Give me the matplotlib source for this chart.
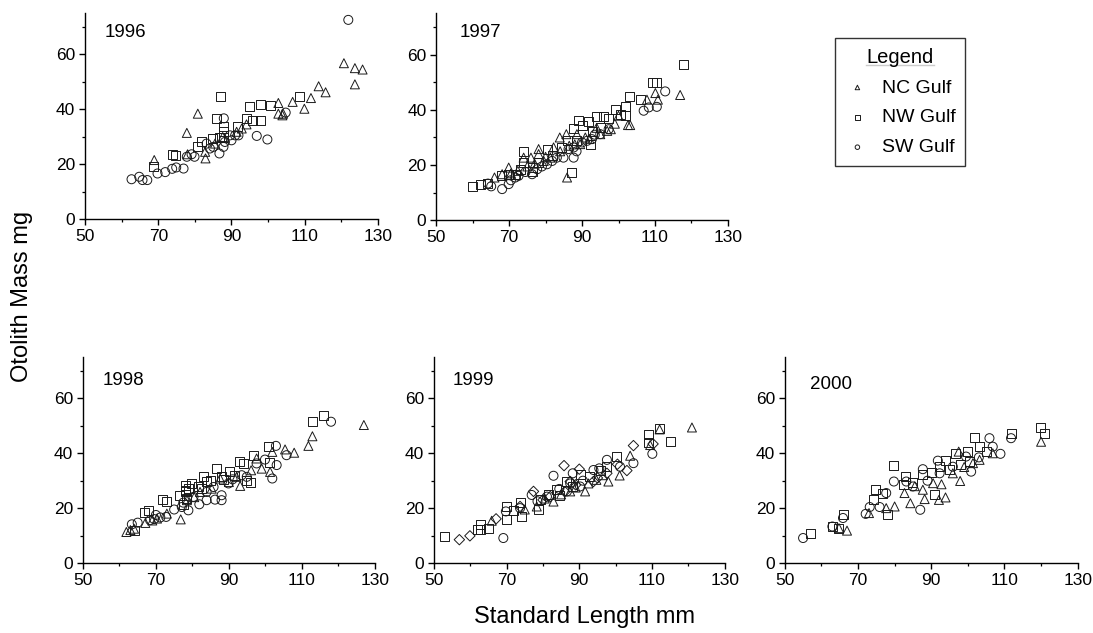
import matplotlib
matplotlib.use("Agg")
import matplotlib.pyplot as plt
from matplotlib.lines import Line2D

plt.rcParams["font.family"] = ["Liberation Sans", "DejaVu Sans"]

# ---- data: (standard length mm, otolith mass mg) ----
nc_1996_x = [68.9, 77.8, 80.8, 78.0, 82.9, 82.8, 85.5, 87.6, 92.8, 94.1, 102.8, 102.8,
             103.9, 106.7, 109.9, 111.7, 113.8, 115.7, 120.7, 123.7, 125.8, 123.7, 104.1, 91.4]
nc_1996_y = [21.5, 31.4, 38.4, 23.6, 22.1, 24.5, 27.5, 29.9, 33.0, 34.5, 42.3, 38.4,
             37.8, 42.7, 40.2, 44.1, 48.4, 46.2, 56.8, 55.0, 54.5, 49.1, 38.4, 31.8]
nw_1996_x = [68.8, 73.8, 74.8, 80.8, 81.9, 85.8, 86.9, 87.8, 87.8, 84.9, 86.7, 91.7,
             94.0, 94.9, 95.8, 97.8, 97.8, 100.7, 108.7, 87.8]
nw_1996_y = [19.0, 23.6, 23.0, 26.3, 28.1, 36.6, 44.8, 33.8, 31.8, 29.3, 29.9, 33.6,
             36.5, 41.1, 36.0, 41.8, 35.8, 41.3, 44.8, 29.9]
sw_1996_x = [62.7, 64.8, 65.7, 67.0, 69.8, 71.9, 73.8, 74.9, 76.9, 77.8, 79.1, 79.9,
             86.7, 87.8, 87.9, 88.2, 90.0, 91.0, 91.9, 96.9, 99.8, 104.8, 121.9, 85.0,
             83.2, 84.1, 89.6]
sw_1996_y = [14.5, 15.4, 14.2, 14.2, 16.6, 17.1, 18.3, 18.8, 18.4, 22.7, 23.6, 22.7,
             23.9, 26.3, 36.7, 28.1, 28.7, 30.5, 30.5, 30.3, 29.0, 38.8, 72.6, 26.3,
             27.5, 25.7, 30.5]

nc_1997_x = [66.0, 68.1, 69.9, 74.0, 76.0, 78.1, 78.1, 83.9, 85.7, 85.9, 88.6, 90.9,
             95.0, 97.9, 100.0, 102.6, 103.2, 107.8, 110.1, 110.8, 116.9, 81.3, 79.5,
             72.4, 89.5, 82.2, 96.9, 77.0, 80.0, 86.5, 92.0, 70.5, 75.0, 84.0, 88.0,
             94.0, 99.0]
nc_1997_y = [15.5, 16.7, 19.1, 22.7, 22.7, 25.8, 24.0, 30.0, 31.2, 15.5, 31.2, 30.0,
             31.2, 33.0, 37.9, 34.5, 34.5, 43.7, 46.1, 43.7, 45.4, 22.7, 21.5,
             17.9, 27.6, 26.4, 32.4, 20.5, 23.0, 27.0, 29.5, 17.0, 19.5, 25.0, 27.5,
             33.5, 35.0]
nw_1997_x = [60.1, 62.1, 64.0, 74.0, 87.2, 117.9, 110.5, 109.4, 102.9, 106.0, 102.0,
             102.0, 99.1, 96.0, 94.1, 91.8, 89.0, 87.7, 90.0, 84.5, 80.4, 76.3, 74.0,
             71.7, 69.9, 67.9, 95.0, 97.3, 92.3, 85.9, 78.0, 82.0, 88.5, 73.0, 76.5,
             93.0, 100.5]
nw_1997_y = [12.2, 12.9, 13.3, 25.0, 17.2, 56.3, 49.8, 49.8, 44.9, 43.7, 41.3,
             37.9, 40.0, 37.6, 37.6, 35.7, 36.0, 33.3, 34.2, 26.4, 25.8, 19.1, 20.8,
             16.5, 16.7, 16.2, 33.6, 36.7, 27.6, 28.8, 21.0, 23.5, 29.0, 18.5, 17.5,
             32.0, 38.5]
sw_1997_x = [64.2, 65.1, 68.1, 69.9, 71.7, 72.6, 76.3, 77.7, 80.4, 83.1, 84.9, 87.7,
             87.7, 90.0, 92.7, 95.0, 97.3, 106.9, 110.5, 112.8, 108.3, 81.8, 86.3, 91.4,
             74.5, 79.0, 93.5, 70.5, 88.5]
sw_1997_y = [13.3, 12.3, 11.3, 13.1, 15.5, 16.1, 16.7, 18.5, 20.3, 22.7, 22.7, 22.7,
             26.4, 28.2, 29.4, 31.2, 33.0, 39.7, 41.1, 46.7, 40.9, 21.5, 25.8, 28.8,
             17.5, 19.5, 31.0, 14.5, 25.0]

nc_1998_x = [61.9, 64.0, 67.1, 70.3, 76.8, 85.3, 93.1, 97.6, 99.0, 101.9, 105.4, 107.9,
             111.8, 112.9, 127.0, 96.1, 92.1, 87.6, 78.5, 73.0, 101.3, 82.1, 69.0, 80.5,
             63.0, 90.0]
nc_1998_y = [11.3, 12.5, 14.6, 16.2, 15.9, 27.1, 28.1, 38.1, 34.4, 40.5, 41.4, 40.2,
             42.7, 46.2, 50.3, 33.8, 31.4, 30.8, 22.9, 18.0, 33.2, 25.9, 15.5, 24.0,
             12.0, 29.5]
nw_1998_x = [64.0, 66.8, 68.0, 71.9, 73.0, 76.6, 78.0, 78.0, 79.8, 81.7, 83.0, 86.7,
             87.9, 90.3, 93.0, 93.9, 94.9, 95.8, 96.7, 100.8, 101.0, 112.9, 115.9, 83.9,
             78.5, 77.5, 79.0, 85.0, 88.5, 91.5, 78.2, 82.5]
nw_1998_y = [11.7, 18.4, 19.0, 23.2, 22.3, 24.7, 28.4, 25.9, 29.0, 28.0, 31.4, 34.4,
             31.4, 33.2, 36.9, 36.3, 30.2, 29.3, 39.3, 42.4, 36.6, 51.5, 53.9, 29.6,
             23.5, 21.5, 27.0, 30.0, 30.5, 32.0, 26.5, 27.0]
sw_1998_x = [63.4, 65.0, 68.4, 71.2, 72.8, 77.1, 78.9, 81.9, 83.9, 86.2, 88.0, 88.0,
             89.9, 93.5, 97.6, 99.9, 101.9, 103.1, 102.9, 105.8, 118.0, 80.3, 83.9, 94.9,
             85.8, 75.0, 69.5, 91.0, 70.0, 77.5]
sw_1998_y = [14.1, 14.7, 15.6, 16.6, 16.8, 20.4, 19.2, 21.4, 22.9, 23.1, 22.9, 24.7,
             29.0, 32.0, 36.3, 37.7, 30.8, 35.7, 42.7, 39.3, 51.5, 24.1, 25.9, 31.4,
             27.7, 19.5, 16.0, 30.5, 17.5, 22.0]

nc_1999_x = [65.9, 82.9, 87.5, 91.6, 98.0, 101.1, 104.0, 112.1, 121.0, 109.5, 78.3, 94.7,
             85.0, 89.0, 96.5, 75.0, 80.5, 92.5]
nc_1999_y = [15.4, 22.4, 26.1, 26.1, 29.7, 31.9, 39.1, 48.7, 49.4, 43.0, 20.6, 30.3,
             25.0, 27.5, 32.0, 19.5, 23.5, 29.0]
nw_1999_x = [52.9, 61.9, 62.9, 62.9, 65.0, 70.0, 70.0, 73.7, 74.0, 78.7, 83.8, 90.2,
             95.7, 100.3, 109.1, 112.1, 115.0, 109.1, 86.6, 79.4, 92.9, 72.0, 81.5, 88.0,
             97.5, 84.5]
nw_1999_y = [9.7, 12.1, 14.2, 12.1, 12.5, 20.6, 15.8, 22.2, 17.0, 19.4, 26.7, 32.1,
             33.9, 38.8, 46.9, 49.1, 44.2, 44.0, 29.7, 23.0, 31.5, 19.0, 25.0, 28.0,
             35.0, 24.5]
sw_1999_x = [69.1, 69.8, 73.7, 76.9, 82.9, 88.2, 93.9, 97.6, 104.9, 110.1, 86.6, 90.2,
             81.1, 101.2, 84.5, 78.5, 95.5, 91.0, 87.5]
sw_1999_y = [9.1, 18.8, 20.0, 24.8, 31.8, 32.7, 33.9, 37.6, 36.4, 39.8, 26.1, 27.9,
             24.2, 35.1, 27.0, 22.5, 34.5, 30.0, 29.0]
dm_1999_x = [57.0, 59.9, 67.1, 77.4, 85.8, 90.0, 103.1, 104.9, 110.3, 82.0, 87.5, 93.9,
             97.6, 73.7, 80.0, 89.0, 95.0, 100.5, 86.0]
dm_1999_y = [8.5, 9.9, 16.1, 26.1, 35.5, 34.2, 33.7, 42.8, 43.4, 24.2, 29.7, 29.7,
             32.7, 20.6, 23.0, 28.5, 31.0, 36.0, 26.0]

nc_2000_x = [67.0, 64.8, 73.0, 77.7, 80.0, 84.3, 88.2, 92.1, 93.9, 92.8, 97.9, 97.5,
             120.0, 106.8, 101.4, 82.7, 90.5, 95.9, 103.2, 87.7, 99.0, 85.5]
nc_2000_y = [11.8, 12.7, 18.2, 20.0, 20.6, 21.8, 23.3, 23.0, 23.9, 28.7, 29.9, 40.6,
             44.2, 40.0, 36.4, 25.5, 29.1, 32.7, 37.6, 26.7, 35.0, 28.0]
nw_2000_x = [57.0, 63.0, 64.8, 66.1, 74.1, 74.8, 76.8, 78.0, 79.8, 82.3, 82.9, 90.9,
             92.3, 93.9, 96.6, 100.0, 101.8, 103.2, 111.8, 119.8, 120.9, 87.5, 90.0,
             100.5, 105.0, 85.0, 95.0, 98.0]
nw_2000_y = [10.9, 13.3, 12.4, 17.6, 23.3, 26.7, 25.5, 17.8, 35.5, 28.5, 31.5, 24.8,
             35.1, 37.3, 39.8, 40.6, 45.8, 42.4, 47.3, 49.3, 47.3, 32.1, 33.0,
             37.0, 40.6, 29.5, 34.0, 36.0]
sw_2000_x = [55.0, 63.0, 65.9, 72.1, 73.2, 75.9, 79.8, 87.0, 87.7, 91.8, 100.9, 105.9,
             106.8, 108.9, 111.8, 77.7, 83.2, 85.0, 95.9, 99.5, 92.3, 89.0, 103.0]
sw_2000_y = [9.1, 13.3, 16.4, 17.9, 20.4, 20.4, 29.7, 19.4, 34.2, 37.3, 33.3, 45.5,
             42.4, 39.8, 45.5, 25.5, 29.7, 27.9, 35.1, 38.8, 32.7, 30.0, 38.5]

years = ["1996", "1997", "1998", "1999", "2000"]
series_labels = ["NC Gulf", "NW Gulf", "SW Gulf"]
x_ticks = [50, 70, 90, 110, 130]
x_minor = [60, 80, 100, 120]
y_ticks = [0, 20, 40, 60]
y_minor = [10, 30, 50, 70]

panels = {
    "1996": [(nc_1996_x, nc_1996_y), (nw_1996_x, nw_1996_y), (sw_1996_x, sw_1996_y)],
    "1997": [(nc_1997_x, nc_1997_y), (nw_1997_x, nw_1997_y), (sw_1997_x, sw_1997_y)],
    "1998": [(nc_1998_x, nc_1998_y), (nw_1998_x, nw_1998_y), (sw_1998_x, sw_1998_y)],
    "1999": [(nc_1999_x, nc_1999_y), (nw_1999_x, nw_1999_y), (sw_1999_x, sw_1999_y)],
    "2000": [(nc_2000_x, nc_2000_y), (nw_2000_x, nw_2000_y), (sw_2000_x, sw_2000_y)],
}
# unlabeled diamond series only appears in 1999
extra = {"1999": (dm_1999_x, dm_1999_y)}

markers = ["^", "s", "o"]
# axes boxes [left, bottom, width, height] in figure fractions
positions = {
    "1996": [0.0778, 0.654, 0.268, 0.325],
    "1997": [0.399, 0.652, 0.267, 0.327],
    "1998": [0.0759, 0.1106, 0.267, 0.325],
    "1999": [0.397, 0.1106, 0.266, 0.325],
    "2000": [0.718, 0.1106, 0.268, 0.325],
}
year_pos = {
    "1996": (0.068, 0.95),
    "1997": (0.079, 0.95),
    "1998": (0.068, 0.93),
    "1999": (0.065, 0.93),
    "2000": (0.086, 0.91),
}

fig = plt.figure(figsize=(10.93, 6.33), dpi=100)

handles = []
for year in years:
    ax = fig.add_axes(positions[year])
    for (xs, ys), m in zip(panels[year], markers):
        sc = ax.scatter(xs, ys, marker=m, s=42, facecolors="none",
                        edgecolors="#1a1a1a", linewidths=0.7)
        if year == "1996":
            handles.append(sc)
    if year in extra:
        xs, ys = extra[year]
        ax.scatter(xs, ys, marker="D", s=28, facecolors="none",
                   edgecolors="#1a1a1a", linewidths=0.7)
    ax.set_xlim(50, 130)
    ax.set_ylim(0, 75)
    ax.set_xticks(x_ticks)
    ax.set_xticks(x_minor, minor=True)
    ax.set_yticks(y_ticks)
    ax.set_yticks(y_minor, minor=True)
    for side in ("top", "right"):
        ax.spines[side].set_visible(False)
    for side in ("left", "bottom"):
        ax.spines[side].set_linewidth(1.0)
    ax.tick_params(which="major", direction="out", length=4, width=1.0,
                   labelsize=12.5, pad=3)
    ax.tick_params(which="minor", direction="out", length=2.5, width=0.9)
    tx, ty = year_pos[year]
    ax.text(tx, ty, year, transform=ax.transAxes, fontsize=13.5,
            ha="left", va="top")

leg = fig.legend(handles, series_labels, loc="upper left",
                 bbox_to_anchor=(0.764, 0.94), title="Legend", fontsize=14,
                 title_fontsize=14.5, markerscale=0.5, frameon=True,
                 fancybox=False, edgecolor="black", handletextpad=0.6,
                 borderpad=0.5, labelspacing=0.63, handlelength=1.3,
                 borderaxespad=0)
leg.get_frame().set_linewidth(1.0)

# underline the legend title
fig.canvas.draw()
bb = leg.get_title().get_window_extent().transformed(fig.transFigure.inverted())
fig.add_artist(Line2D([bb.x0, bb.x1], [bb.y0 + 0.003, bb.y0 + 0.003],
                      transform=fig.transFigure, color="black", lw=1.0))

fig.text(0.02, 0.532, "Otolith Mass mg", rotation=90, fontsize=17,
         ha="center", va="center")
fig.text(0.535, 0.025, "Standard Length mm", fontsize=17,
         ha="center", va="center")

fig.savefig("out.png", dpi=100)
